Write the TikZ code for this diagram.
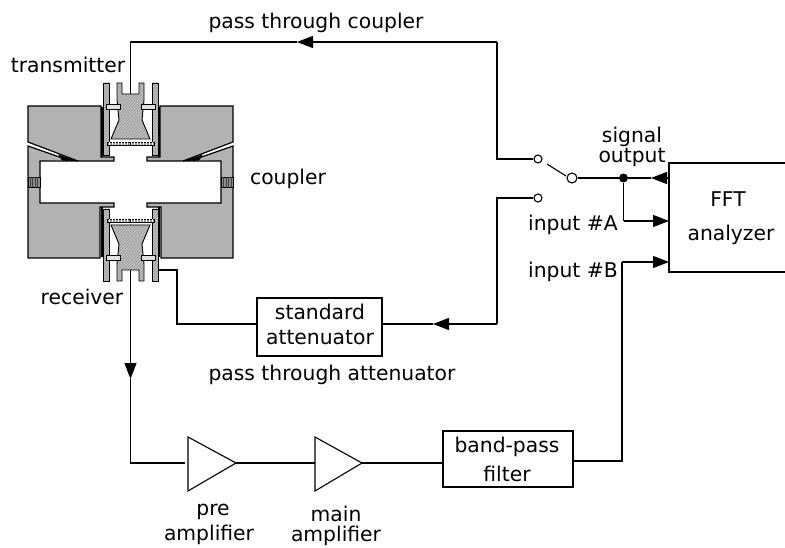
\documentclass[tikz,border=0pt]{standalone}
\usepackage{fontspec}
\setmainfont{DejaVu Sans}
\usetikzlibrary{arrows.meta,patterns}
\definecolor{blockgray}{gray}{0.70}
\definecolor{hatchgray}{gray}{0.74}
\tikzset{
  wire/.style={line width=1.1pt,line join=miter},
  arrowwire/.style={wire,-{Triangle[length=16pt,width=12pt]}},
  lbl/.style={inner sep=0pt,font=\fontsize{20.3}{23}\selectfont},
  boxn/.style={draw,line width=1.1pt,inner sep=0pt,fill=white},
  term/.style={circle,draw,line width=1.1pt,fill=white,inner sep=0pt},
  jdot/.style={circle,fill=black,inner sep=0pt,minimum size=9pt},
  block/.style={fill=blockgray,draw=black,line width=1.2pt,line join=miter},
  hatch/.style={preaction={fill=hatchgray},pattern=north east lines,pattern color=black!40,draw=black,line width=0.9pt},
  pinbox/.style={fill=black!12,draw=black,line width=0.9pt},
  amp/.style={draw,line width=1.1pt,fill=white,line join=miter},
}
\newcommand{\halfblocks}{%
  % upper block with slit
  \draw[block] (28,106)--(101,106)--(101,157)--(114,157)--(114,161)--(78,161)--(28,142)--cycle;
  % wall and lower block
  \fill[blockgray] (28,146)--(68,160)--(40,161)--(40,203)--(114,203)--(114,207)--(100,207)--(100,258)--(28,258)--cycle;
  \draw[line width=1.2pt] (68,160)--(28,146)--(28,258)--(100,258)--(100,207)--(114,207)--(114,203)--(40,203)--(40,161)--(78,161);
  \fill[black] (58,154.5)--(78,161)--(62,160.5)--cycle;
  \draw[line width=0.8pt,fill=black!45] (28,177) rectangle (40,187);
  \foreach \xx in {30,32.5,35,37.5}{\draw[line width=0.5pt,black!75] (\xx,177)--(\xx,187);}
}
\newcommand{\halftransducer}{%
  \draw[hatch] (103,83) rectangle (109,155);
  \draw[line width=1.5pt] (101.8,107)--(101.8,157);
  % body half
  \fill[hatchgray] (130.5,94)--(122,94)--(122,83)--(117,83)--(117,100)--(118,110)--(119,120)--(111,139)--(131,139)--(131,94)--cycle;
  \fill[pattern=north east lines,pattern color=black!40] (130.5,94)--(122,94)--(122,83)--(117,83)--(117,100)--(118,110)--(119,120)--(111,139)--(131,139)--(131,94)--cycle;
  \draw[line width=0.9pt] (131,94)--(122,94)--(122,83)--(117,83)--(117,100)--(118,110)--(119,120)--(111,139)--(131,139);
  \draw[pinbox] (106,104) rectangle (120,109);
  \draw[line width=0.7pt,fill=black!40] (107,142) rectangle (131,145);
  \foreach \xx in {109,112,...,130}{\draw[line width=0.4pt,white] (\xx,142)--(\xx,145);}
}
\begin{document}
\begin{tikzpicture}[x=1pt,y=-1pt]
\useasboundingbox (0,0) rectangle (785,548);
% coupler blocks, mirrored about the vertical axis
\halfblocks
\begin{scope}[shift={(261,0)},xscale=-1]\halfblocks\end{scope}
% transducers
\halftransducer
\begin{scope}[shift={(261,0)},xscale=-1]\halftransducer\end{scope}
\begin{scope}[shift={(0,364)},yscale=-1]\halftransducer\end{scope}
\begin{scope}[shift={(261,364)},xscale=-1,yscale=-1]\halftransducer\end{scope}
% anchor points
\coordinate (tx) at (130.5,94);
\coordinate (txup) at (130.5,42);
\coordinate (arrtop) at (297,42);
\coordinate (ctop) at (497,42);
\coordinate (cin) at (497,159);
\coordinate (rx) at (130.5,270);
\coordinate (rxarr) at (130.5,379);
\coordinate (rxcorner) at (130.5,463);
\coordinate (rxout) at (159,270);
\coordinate (rxbend) at (177,270);
\coordinate (rxbend2) at (177,324);
\coordinate (attr) at (497,324);
\coordinate (attt) at (497,198);
\coordinate (atttip) at (433,324);
\coordinate (preA) at (188,437);
\coordinate (preB) at (188,491);
\coordinate (preC) at (236,463);
\coordinate (preIn) at (185,463);
\coordinate (mainA) at (315,437);
\coordinate (mainB) at (315,491);
\coordinate (mainC) at (362,463);
\coordinate (fftTL) at (785,163);
\coordinate (fftL1) at (669,163);
\coordinate (fftL2) at (669,272);
\coordinate (fftBR) at (785,272);
\coordinate (fftS) at (669,178);
\coordinate (fftA) at (669,221);
\coordinate (fftB) at (669,262);
\coordinate (tipS) at (651,178);
\coordinate (corA) at (623.5,221);
\coordinate (corB) at (622,262);
\coordinate (corB2) at (622,461);
% boxes and terminals
\node[boxn,minimum width=125pt,minimum height=58pt] (att) at (319.5,327) {};
\node[boxn,minimum width=130pt,minimum height=56pt] (filt) at (508,459) {};
\node[term,minimum size=8pt] (t1) at (538,159) {};
\node[term,minimum size=8pt] (t2) at (538,198) {};
\node[term,minimum size=10pt] (t3) at (572,178) {};
\node[jdot] (dot) at (623.5,178) {};
\coordinate (bladeA) at (547,164);
\coordinate (bladeB) at (566,176);
% FFT box (its right side runs off the picture)
\draw[wire] (fftTL)--(fftL1)--(fftL2)--(fftBR);
% amplifiers
\draw[amp] (preA)--(preC)--(preB)--cycle;
\draw[amp] (mainA)--(mainC)--(mainB)--cycle;
% connectors
\draw[arrowwire] (ctop)--(arrtop);
\draw[wire] (arrtop)--(txup)--(tx);
\draw[wire] (t1.west)--(cin)--(ctop);
\draw[wire] (bladeA)--(bladeB);
\draw[wire] (t3.east)--(dot);
\draw[arrowwire] (fftS)--(tipS);
\draw[wire] (tipS)--(dot);
\draw[wire] (dot)--(corA);
\draw[arrowwire] (corA)--(fftA);
\draw[wire] (t2.west)--(attt)--(attr);
\draw[arrowwire] (attr)--(atttip);
\draw[wire] (atttip)--(att.east |- atttip);
\draw[wire] (rxout)--(rxbend)--(rxbend2)--(att.west |- rxbend2);
\draw[arrowwire] (rx)--(rxarr);
\draw[wire] (rxarr)--(rxcorner)--(preIn);
\draw[wire] (preC)--(mainA |- preC);
\draw[wire] (mainC)--(filt.west |- mainC);
\draw[wire] (filt.east |- corB2)--(corB2)--(corB);
\draw[arrowwire] (corB)--(fftB);
% labels
\node[lbl] (l1) at (316,23) {pass through coupler};
\node[lbl] (l2) at (68,65) {transmitter};
\node[lbl] (l3) at (288,179) {coupler};
\node[lbl] (l4) at (82,297) {receiver};
\node[lbl] (l5) at (632,137) {signal};
\node[lbl] (l6) at (632,157) {output};
\node[lbl] (l7) at (573,225) {input \#A};
\node[lbl] (l8) at (573,272) {input \#B};
\node[lbl] (l9) at (728,199) {FFT};
\node[lbl] (l10) at (731,235) {analyzer};
\node[lbl] (l11) at (320,312) {standard};
\node[lbl] (l12) at (320,338) {attenuator};
\node[lbl] (l13) at (332,375) {pass through attenuator};
\node[lbl] (l14) at (507,447) {band-pass};
\node[lbl] (l15) at (507,474) {filter};
\node[lbl] (l16) at (213,512) {pre};
\node[lbl] (l17) at (209,535) {amplifier};
\node[lbl] (l18) at (336,514) {main};
\node[lbl] (l19) at (336,536) {amplifier};
\end{tikzpicture}
\end{document}
